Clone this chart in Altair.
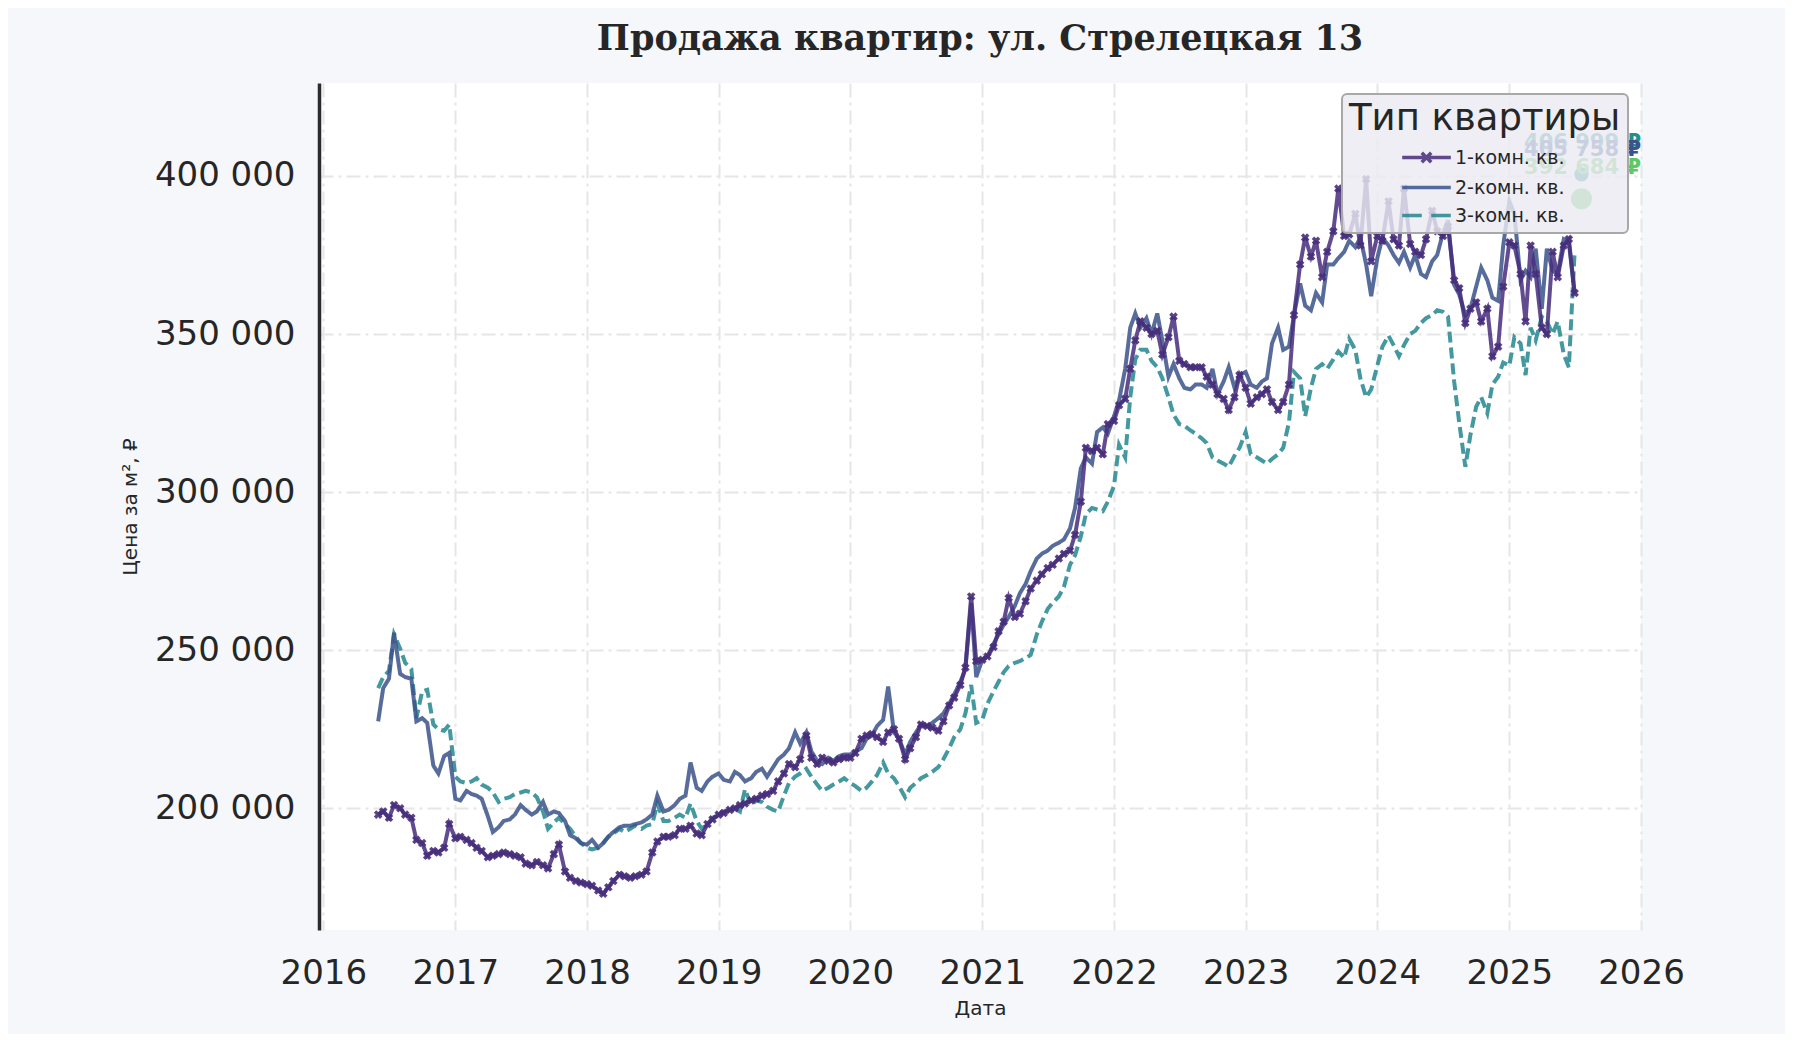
import altair as alt
import pandas as pd

TYPES = ["1-комн. кв.", "2-комн. кв.", "3-комн. кв."]
LINE_COLORS = ["#472d7b", "#3b528b", "#23868e"]

# half-month points (1st and 15th), June 2016 - July 2025
dates = pd.date_range("2016-06-01", "2025-07-01", freq="SMS")

# price per m2, thousand rubles
room1 = (
    [198, 199, 197, 201, 200, 198, 197, 190, 189, 185, 186.5, 186, 187.5, 195]
    + [190.5, 191, 190, 189, 187.5, 186.5, 184.5, 185, 185.5, 186, 185.5, 185,
       184.5, 182.5, 182, 183, 182, 181, 185.5, 188.5, 180, 178, 177, 176.5]
    + [176, 175.5, 174, 173, 175, 177, 179, 178.5, 178, 178.5, 179, 180,
       186, 189.5, 191, 191, 191.5, 193.5, 193.5, 194.5, 192, 191.5, 195, 196.5]
    + [198, 198.5, 199.5, 200, 201, 201.5, 202.5, 203, 204, 204.5, 205.5, 208.5,
       211, 214, 213, 215.5, 223, 216, 214, 216, 215, 214.5, 215.5, 216]
    + [216, 217.5, 222, 223, 223.5, 222.5, 221, 224, 225, 222, 215.5, 219,
       222.5, 226.5, 226, 225.5, 224.5, 227.5, 232.5, 235, 239, 244.5, 267, 246.5]
    + [247, 248, 251, 256, 259, 266.5, 260.5, 261.5, 265.5, 269.5, 272, 274,
       276, 277, 279, 280.5, 281.5, 286.5, 297, 314, 313, 314, 312, 321.5]
    + [322.5, 327.5, 329.5, 339, 348, 354, 352, 350, 351, 343.5, 349, 355.5,
       341.5, 340.5, 339.5, 339.5, 339.5, 336.5, 334, 331, 329.5, 326, 330, 337]
    + [333, 328, 330, 331, 332.5, 328.5, 326, 328.5, 334, 356, 372, 380.5,
       374.5, 379.5, 368, 376, 382.5, 396, 381, 381.5, 388, 378, 399, 373]
    + [381, 379.5, 392, 380, 378, 396, 378.5, 376, 375, 380, 389, 382.5,
       381, 384, 367, 364.5, 353.5, 358, 360, 354, 358, 343, 346, 365]
    + [379, 378, 369, 354, 378, 369, 352, 350, 376, 368, 378, 380, 363]
)
room2 = (
    [227.5, 238, 241, 255.5, 242.5, 241.5, 241, 227.5, 228.5, 227, 213.5, 211, 216.5, 217.5]
    + [203, 202.5, 205.5, 204.5, 204, 203, 197.5, 192.5, 194, 196, 196.5, 198,
       201, 199.5, 198, 199, 202, 198, 199, 198.5, 196, 191.5, 190.5, 189]
    + [188.5, 190, 187.5, 189, 191, 192.5, 194, 194.5, 194.5, 195, 195.5, 196.5,
       198, 204, 199, 199.5, 201, 203, 204, 214.5, 206.5, 205.5, 208.5, 210]
    + [211, 209, 208.5, 211.5, 210.5, 208.5, 209.5, 211.5, 212.5, 210, 213, 215.5,
       217, 219, 224, 220.5, 224, 218, 215, 214, 216, 215, 216.5, 217]
    + [217, 218, 219, 222, 223, 226, 228, 238.5, 224, 222, 217, 221,
       224, 226.5, 226, 227, 228.5, 230, 233, 236, 240, 244, 265, 241.5]
    + [247, 248, 252, 255, 258, 260.5, 264, 268, 271, 275, 279, 280.5,
       281.5, 283, 284, 285, 288.5, 295, 307.5, 311, 309, 319, 320.5, 318.5]
    + [324, 329, 339, 352, 356.5, 352, 355, 350, 356.5, 348, 336.5, 340.5,
       336, 333, 332.5, 334, 334, 333, 339, 331, 335, 339.5, 333, 337]
    + [338, 334, 333, 335, 336, 347, 352, 345, 346, 356, 366, 359,
       357.5, 363, 360, 372, 372, 374, 376, 379.5, 377.5, 380.5, 372, 362]
    + [374, 380.5, 378, 375, 372.5, 376, 371, 375, 369, 368, 373, 375,
       382, 386, 365.5, 362.5, 356, 358, 365, 371, 367, 361.5, 360.5, 378]
    + [392, 388, 367, 370, 368, 377, 358, 377, 370, 369, 380, 379, 362.5]
)
room3 = (
    [238, 241.5, 243.5, 255, 250.5, 246, 244, 228.5, 237, 237.5, 226.5, 225, 224.5, 226.5]
    + [210, 208.5, 208, 208.5, 209.5, 207.5, 206.5, 205, 202, 203, 203.5, 204.5,
       205, 205.5, 205, 203.5, 199, 193.5, 195.5, 197, 195, 193.5, 191, 189]
    + [187.5, 187, 187.5, 189, 191, 192, 193.5, 192.5, 193.5, 194.5, 193.5, 194.5,
       195, 201.5, 196, 196, 197, 198, 197, 201.5, 196, 193.5, 195, 197]
    + [198, 199, 199.5, 200, 199, 206, 201, 202.5, 202, 200.5, 199.5, 199,
       204, 208, 210, 211, 212.5, 210, 207.5, 205.5, 206.5, 207.5, 208.5, 209.5]
    + [208, 207, 205.5, 206.5, 208.5, 210.5, 214.5, 211, 209.5, 207, 203.5, 206.5,
       208, 209.5, 210.5, 211.5, 213, 215.5, 219, 222.5, 225, 230, 239, 227]
    + [228, 233, 237, 240, 243, 245, 246, 246.5, 247.5, 248.5, 255, 259,
       263, 265, 267, 270, 277, 280, 286, 293, 295, 294.5, 294, 297]
    + [302, 315, 311, 330, 342, 345, 345, 341.5, 339.5, 336, 330, 324.5,
       321.5, 321, 319.5, 318.5, 317, 315.5, 311, 310, 309, 308, 311.5, 314]
    + [319, 312, 311, 310, 309, 310.5, 312, 314, 322, 338, 336, 324,
       333, 339, 340.5, 339, 342, 344.5, 342.5, 348.5, 345, 336, 330, 332.5]
    + [340, 346, 349.5, 346.5, 343, 346.5, 350, 351, 353.5, 355, 356, 357.5,
       357, 355.5, 335, 322, 308, 318, 327, 330, 325, 334, 336.5, 341]
    + [340, 349, 347, 337, 352, 348, 355.5, 354, 350, 354, 343.5, 339.5, 376]
)

# markers and captions at the right end
end_keys = ["teal", "green"]
end_prices = [400500, 392800]
end_date = "2025-07-20"
caption_keys = ["teal", "blue", "green"]
caption_texts = ["406 999 ₽", "405 758 ₽", "392 684 ₽"]
caption_prices = [410300, 408100, 402400]
caption_date = "2026-01-01"
END_COLORS = {"teal": "#21918c", "blue": "#3b528b", "green": "#5ec962"}

y_ticks = [200000, 250000, 300000, 350000, 400000]
x_years = list(range(2016, 2027))

frames = []
for name, vals in zip(TYPES, [room1, room2, room3]):
    frames.append(pd.DataFrame({"date": dates, "type": name, "price": [v * 1000 for v in vals]}))
df = pd.concat(frames, ignore_index=True)

ends = pd.DataFrame({"date": end_date, "key": end_keys, "price": end_prices})
captions = pd.DataFrame({"date": caption_date, "key": caption_keys,
                         "text": caption_texts, "price": caption_prices})

x_enc = alt.X(
    "date:T",
    title="Дата",
    scale=alt.Scale(domain=[alt.DateTime(year=2015, month=12, date=20),
                            alt.DateTime(year=2026, month=1, date=1)], nice=False),
    axis=alt.Axis(values=[alt.DateTime(year=y, month=1, date=1) for y in x_years],
                  format="%Y", domain=False, ticks=False, labelPadding=26,
                  titlePadding=8, labelFlush=False),
)
y_enc = alt.Y(
    "price:Q",
    title="Цена за м², ₽",
    scale=alt.Scale(domain=[161500, 429400], nice=False, zero=False),
    axis=alt.Axis(values=y_ticks, ticks=False, labelPadding=24, titlePadding=14,
                  labelExpr="replace(format(datum.value, ',.0f'), ',', ' ')",
                  domain=True, domainColor="#2b2b2b", domainWidth=3.5),
)

color_scale = alt.Scale(domain=TYPES, range=LINE_COLORS)
fill_scale = alt.Scale(domain=list(END_COLORS), range=list(END_COLORS.values()))

# series drawn 3 -> 2 -> 1 so the one-room line lies on top
lines = []
for name, color in zip(TYPES[::-1], LINE_COLORS[::-1]):
    dash = [11, 5] if name == TYPES[2] else [1, 0]
    lines.append(
        alt.Chart(df)
        .transform_filter(alt.datum.type == name)
        .mark_line(strokeWidth=4, opacity=0.85, strokeDash=dash, color=color)
        .encode(x=x_enc, y=y_enc)
    )

markers = (
    alt.Chart(df)
    .transform_filter(alt.datum.type == TYPES[0])
    .mark_point(shape="cross", angle=45, filled=True, size=75, opacity=0.9,
                color=LINE_COLORS[0])
    .encode(x=x_enc, y=y_enc)
)

end_points = [
    alt.Chart(ends)
    .transform_filter(alt.datum.key == key)
    .mark_point(filled=True, stroke="white", strokeWidth=2.5, opacity=1, size=size)
    .encode(x="date:T", y="price:Q",
            fill=alt.Fill("key:N", scale=fill_scale, legend=None))
    for key, size in zip(end_keys, [280, 560])
]

end_labels = (
    alt.Chart(captions)
    .mark_text(align="right", baseline="middle", font="DejaVu Sans",
               fontSize=21, fontWeight="bold")
    .encode(x="date:T", y="price:Q", text="text:N",
            fill=alt.Fill("key:N", scale=fill_scale, legend=None))
)

legend = alt.Legend(
    title="Тип квартиры",
    orient="none", legendX=1023, legendY=11,
    titleFont="DejaVu Sans", titleFontSize=37, titleFontWeight="normal",
    titleColor="#262626", titlePadding=4, titleLimit=600,
    labelFont="DejaVu Sans", labelFontSize=19, labelColor="#262626",
    symbolSize=729, symbolStrokeWidth=3.5, symbolOffset=62, labelOffset=13,
    rowPadding=2, padding=7, cornerRadius=5,
    fillColor="rgba(234,234,242,0.82)", strokeColor="#a8a8a8",
)
sym_paths = [
    "M-1.8,0H1.8M-0.35,-0.35L0.35,0.35M-0.35,0.35L0.35,-0.35",
    "M-1.8,0H1.8",
    "M-1.8,0H-0.35M0.35,0H1.8",
]
legend_layer = (
    alt.Chart(df)
    .transform_filter("datum.price < 0")
    .mark_point(filled=False, strokeWidth=3.5, opacity=0.85)
    .encode(
        x=x_enc, y=y_enc,
        color=alt.Color("type:N", scale=color_scale, title="Тип квартиры", legend=legend),
        shape=alt.Shape("type:N", scale=alt.Scale(domain=TYPES, range=sym_paths),
                        title="Тип квартиры", legend=legend),
    )
)

chart = (
    alt.layer(*lines, markers, *end_points, end_labels, legend_layer)
    .properties(
        width=1322,
        height=847,
        padding={"left": 112, "top": 14, "right": 100, "bottom": 16},
        title=alt.TitleParams(
            "Продажа квартир: ул. Стрелецкая 13",
            font="DejaVu Serif", fontSize=35, fontWeight="bold",
            color="#262626", offset=26, anchor="middle", frame="group",
        ),
    )
    .configure(background="#f5f7fa")
    .configure_view(fill="white", strokeWidth=0)
    .configure_axis(
        labelFont="DejaVu Sans", labelFontSize=34, labelColor="#262626",
        titleFont="DejaVu Sans", titleFontSize=20, titleFontWeight="normal",
        titleColor="#262626",
        gridColor="#e6e6e6", gridWidth=2, gridDash=[14, 5, 3, 5],
    )
    .configure_legend(strokeWidth=2)
)

chart.save("out.html", embed_options={"renderer": "svg", "actions": False})
